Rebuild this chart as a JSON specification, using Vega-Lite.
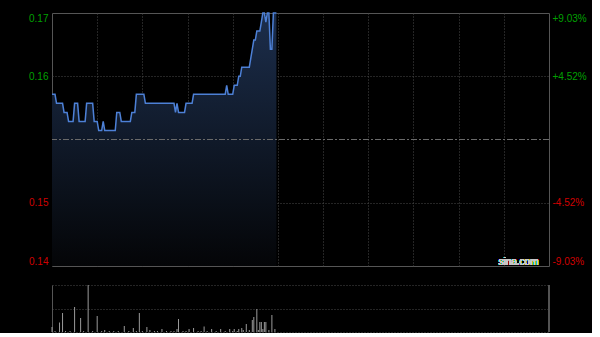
{
  "$schema": "https://vega.github.io/schema/vega-lite/v6.json",
  "background": "#000000",
  "padding": {"left": 28, "top": 9, "right": 5, "bottom": 0},
  "spacing": 16,
  "config": {
    "font": "Liberation Sans",
    "view": {"stroke": "#555555"},
    "axis": {"labelFont": "Liberation Sans", "labelFontSize": 10}
  },
  "datasets": {
    "price": [
      {"m": 0, "p": 0.160}, {"m": 2, "p": 0.160}, {"m": 3, "p": 0.159}, {"m": 7, "p": 0.159},
      {"m": 8, "p": 0.158}, {"m": 10, "p": 0.158}, {"m": 11, "p": 0.157}, {"m": 14, "p": 0.157},
      {"m": 15, "p": 0.159}, {"m": 17, "p": 0.159}, {"m": 18, "p": 0.157}, {"m": 22, "p": 0.157},
      {"m": 23, "p": 0.159}, {"m": 27, "p": 0.159}, {"m": 28, "p": 0.157}, {"m": 30, "p": 0.157},
      {"m": 31, "p": 0.156}, {"m": 33, "p": 0.156}, {"m": 34, "p": 0.157}, {"m": 35, "p": 0.156},
      {"m": 42, "p": 0.156}, {"m": 43, "p": 0.158}, {"m": 45, "p": 0.158}, {"m": 46, "p": 0.157},
      {"m": 52, "p": 0.157}, {"m": 53, "p": 0.158}, {"m": 55, "p": 0.158}, {"m": 56, "p": 0.160},
      {"m": 61, "p": 0.160}, {"m": 62, "p": 0.159}, {"m": 81, "p": 0.159}, {"m": 82, "p": 0.158},
      {"m": 83, "p": 0.159}, {"m": 84, "p": 0.158}, {"m": 88, "p": 0.158}, {"m": 89, "p": 0.159},
      {"m": 93, "p": 0.159}, {"m": 94, "p": 0.160}, {"m": 115, "p": 0.160}, {"m": 116, "p": 0.161},
      {"m": 117, "p": 0.160}, {"m": 120, "p": 0.160}, {"m": 121, "p": 0.161}, {"m": 123, "p": 0.161},
      {"m": 124, "p": 0.162}, {"m": 125, "p": 0.162}, {"m": 126, "p": 0.163}, {"m": 131, "p": 0.163},
      {"m": 132, "p": 0.164}, {"m": 133, "p": 0.165}, {"m": 134, "p": 0.166}, {"m": 135, "p": 0.166},
      {"m": 136, "p": 0.167}, {"m": 138, "p": 0.167}, {"m": 139, "p": 0.168}, {"m": 140, "p": 0.169},
      {"m": 141, "p": 0.169}, {"m": 142, "p": 0.168}, {"m": 143, "p": 0.169}, {"m": 144, "p": 0.169},
      {"m": 145, "p": 0.165}, {"m": 146, "p": 0.165}, {"m": 147, "p": 0.169}, {"m": 149, "p": 0.169}
    ],
    "vol": [
      {"m": 0, "v": 5}, {"m": 2, "v": 1}, {"m": 5, "v": 9.5}, {"m": 7, "v": 19}, {"m": 9, "v": 1},
      {"m": 12, "v": 1}, {"m": 15, "v": 25}, {"m": 19, "v": 14}, {"m": 21, "v": 1}, {"m": 24, "v": 47},
      {"m": 27, "v": 1}, {"m": 30, "v": 16}, {"m": 33, "v": 1}, {"m": 35, "v": 2}, {"m": 38, "v": 1},
      {"m": 41, "v": 1}, {"m": 44, "v": 1}, {"m": 48, "v": 6}, {"m": 51, "v": 1}, {"m": 54, "v": 4},
      {"m": 56, "v": 1}, {"m": 58, "v": 19}, {"m": 60, "v": 1}, {"m": 63, "v": 5}, {"m": 65, "v": 2},
      {"m": 68, "v": 1}, {"m": 70, "v": 1}, {"m": 73, "v": 3}, {"m": 76, "v": 1}, {"m": 79, "v": 1},
      {"m": 81, "v": 1}, {"m": 83, "v": 3}, {"m": 84, "v": 13}, {"m": 87, "v": 1}, {"m": 89, "v": 1},
      {"m": 91, "v": 3}, {"m": 94, "v": 4}, {"m": 97, "v": 1}, {"m": 99, "v": 1}, {"m": 101, "v": 5.5},
      {"m": 103, "v": 1}, {"m": 106, "v": 3}, {"m": 109, "v": 1}, {"m": 112, "v": 3}, {"m": 115, "v": 1},
      {"m": 118, "v": 3}, {"m": 120, "v": 1}, {"m": 121, "v": 3}, {"m": 123, "v": 1}, {"m": 124, "v": 3},
      {"m": 126, "v": 4}, {"m": 127, "v": 2}, {"m": 129, "v": 8}, {"m": 131, "v": 2}, {"m": 133, "v": 12},
      {"m": 134, "v": 15}, {"m": 136, "v": 23}, {"m": 137, "v": 2}, {"m": 138, "v": 10}, {"m": 139, "v": 10},
      {"m": 140, "v": 3}, {"m": 141, "v": 10}, {"m": 142, "v": 10}, {"m": 144, "v": 2}, {"m": 146, "v": 17},
      {"m": 148, "v": 3}
    ]
  },
  "vconcat": [
    {
      "width": 497,
      "height": 253,
      "data": {"name": "price"},
      "layer": [
        {
          "mark": {
            "type": "area",
            "fill": {
              "gradient": "linear", "x1": 0, "y1": 0, "x2": 0, "y2": 1,
              "stops": [{"offset": 0, "color": "#1c2e4c"}, {"offset": 1, "color": "#040507"}]
            }
          },
          "encoding": {
            "x": {
              "field": "m", "type": "quantitative",
              "scale": {"domain": [0, 330], "nice": false, "zero": false},
              "axis": {
                "values": [30, 60, 90, 120, 150, 180, 210, 240, 270, 300],
                "grid": true, "gridColor": "#4a4a4a", "gridDash": [1, 2],
                "labels": false, "ticks": false, "domain": false, "title": null
              }
            },
            "y": {
              "field": "p", "type": "quantitative",
              "scale": {"domain": [0.141, 0.169], "nice": false, "zero": false},
              "axis": {
                "orient": "right",
                "values": [0.141, 0.148, 0.162, 0.169],
                "labelExpr": "replace(format((datum.value - 0.155) / 0.155, '+.2%'), '\u2212', '-')",
                "labelColor": {"condition": {"test": "datum.value > 0.155", "value": "#00a000"}, "value": "#d00000"},
                "labelFlush": true, "labelPadding": 3,
                "ticks": false, "domain": false, "grid": false, "title": null
              }
            },
            "y2": {"datum": 0.141}
          }
        },
        {
          "mark": {"type": "line", "color": "#4d80d6", "strokeWidth": 1.5},
          "encoding": {
            "x": {"field": "m", "type": "quantitative"},
            "y": {
              "field": "p", "type": "quantitative",
              "axis": {
                "orient": "left",
                "values": [0.141, 0.148, 0.162, 0.169],
                "labelExpr": "format(datum.value, '.2f')",
                "labelColor": {"condition": {"test": "datum.value > 0.155", "value": "#00a000"}, "value": "#d00000"},
                "labelFlush": true, "labelPadding": 4,
                "ticks": false, "domain": false,
                "grid": true, "gridColor": "#4a4a4a", "gridDash": [1, 2],
                "gridOpacity": {"condition": {"test": "datum.value > 0.145 && datum.value < 0.165", "value": 1}, "value": 0},
                "title": null
              }
            }
          }
        },
        {
          "mark": {"type": "rule", "color": "#6a6a6a", "strokeDash": [6, 2, 2, 2]},
          "encoding": {"y": {"datum": 0.155, "axis": null}}
        },
        {
          "mark": {"type": "text", "text": "sina.com", "color": "#c8c8c8", "fontSize": 10, "align": "right", "baseline": "alphabetic", "dy": -1},
          "encoding": {"x": {"datum": 323}, "y": {"datum": 0.141, "axis": null}}
        }
      ],
      "resolve": {"axis": {"y": "independent"}}
    },
    {
      "width": 497,
      "height": 47,
      "data": {"name": "vol"},
      "view": {"stroke": null},
      "layer": [
        {
          "mark": {"type": "bar", "color": "#9a9a9a", "width": 1},
          "encoding": {
            "x": {"field": "m", "type": "quantitative", "scale": {"domain": [0, 330], "nice": false, "zero": false, "padding": 0}, "axis": null},
            "y": {
              "field": "v", "type": "quantitative",
              "scale": {"domain": [0, 47], "nice": false},
              "axis": {
                "values": [0, 23.5, 47], "grid": true, "gridColor": "#4a4a4a", "gridDash": [1, 2],
                "labels": false, "ticks": false, "domain": true, "domainColor": "#555555", "title": null
              }
            }
          }
        },
        {
          "mark": {"type": "rule", "color": "#555555"},
          "encoding": {"x": {"datum": 330, "axis": null}}
        }
      ]
    }
  ]
}
